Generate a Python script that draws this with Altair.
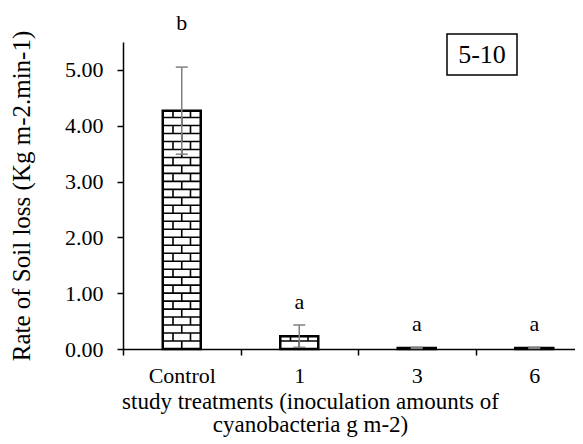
import altair as alt
import pandas as pd

# ---- data ----
categories = ["Control", "1", "3", "6"]
means = [4.27, 0.23, 0.02, 0.02]
errors = [0.78, 0.20, 0.01, 0.01]
letters = ["b", "a", "a", "a"]

FONT = "Liberation Serif"
BRICK_H = 0.143          # brick row height (y units) - style only
STEP_PX = 117.5          # category spacing in pixels
HALF_W = 19 / STEP_PX    # bar half width in x units (38 px bars)
CAP_HALF = 6 / STEP_PX
PLOT_W = 452

pos = list(range(len(categories)))
df = pd.DataFrame({"cat": categories, "pos": pos, "mean": means, "err": errors, "letter": letters})
df["lo"] = df["mean"] - df["err"]
df["hi"] = df["mean"] + df["err"]
df["x1"] = df["pos"] - HALF_W
df["x2"] = df["pos"] + HALF_W
df["c1"] = df["pos"] - CAP_HALF
df["c2"] = df["pos"] + CAP_HALF

# brick texture segments derived from the bar values
segs = []
for p, v in zip(pos, means):
    n_rows = int(v // BRICK_H) + (1 if v % BRICK_H > 1e-9 else 0)
    for r in range(n_rows):
        y0 = r * BRICK_H
        y1 = min((r + 1) * BRICK_H, v)
        if y1 - y0 < 0.03:
            continue
        if r > 0:
            segs.append({"x": p - HALF_W, "x2": p + HALF_W, "y": y0, "y2": y0})
        fracs = [0.5] if r % 2 == 0 else [0.27, 0.73]
        for f in fracs:
            xx = p - HALF_W + 2 * HALF_W * f
            segs.append({"x": xx, "x2": xx, "y": y0, "y2": y1})
bricks = pd.DataFrame(segs)

xdom = [-0.5, -0.5 + PLOT_W / STEP_PX]
xscale = alt.Scale(domain=xdom, nice=False, zero=False)
yscale = alt.Scale(domain=[0, 5.5], nice=False)

cat_js = str(categories).replace("'", '"')
lab_expr = "datum.value % 1 == 0 && isValid(" + cat_js + "[datum.value]) ? " + cat_js + "[datum.value] : ''"
xvals = []
for p in pos:
    xvals += [p - 0.5, p]

xaxis = alt.Axis(
    values=xvals, labelExpr=lab_expr, grid=False,
    title=["study treatments (inoculation amounts of", "cyanobacteria g m-2)"],
    titleFont=FONT, titleFontSize=23, titleFontWeight="normal", titleColor="black",
    titleX=187, titleAnchor="middle", titleAlign="center", titleLineHeight=23, titlePadding=4,
    labelFont=FONT, labelFontSize=22, labelColor="black", labelPadding=10, labelFlush=False,
    labelOverlap=False,
    tickSize=6, tickColor="black", tickWidth=1.5,
    tickOpacity=alt.condition("datum.value % 1 != 0", alt.value(1), alt.value(0)),
    domainColor="black", domainWidth=1.5,
)
yaxis = alt.Axis(
    values=[0, 1, 2, 3, 4, 5], format=".2f", grid=False,
    title="Rate of Soil loss (Kg m-2.min-1)",
    titleFont=FONT, titleFontSize=25, titleFontWeight="normal", titleColor="black", titlePadding=30,
    labelFont=FONT, labelFontSize=22, labelColor="black", labelPadding=14,
    tickSize=6, tickColor="black", tickWidth=1.5,
    domainColor="black", domainWidth=1.5,
)

base = alt.Chart(df)

bars = base.mark_rect(fill="white", strokeWidth=0).encode(
    x=alt.X("x1:Q", scale=xscale, axis=xaxis), x2="x2:Q",
    y=alt.Y("mean:Q", scale=yscale, axis=yaxis), y2=alt.datum(0),
)
brick = alt.Chart(bricks).mark_rule(color="black", strokeWidth=1.6).encode(
    x="x:Q", x2="x2:Q", y="y:Q", y2="y2:Q"
)
outline = base.mark_rect(fillOpacity=0, stroke="black", strokeWidth=2.5).encode(
    x="x1:Q", x2="x2:Q", y="mean:Q", y2=alt.datum(0)
)
err_line = base.mark_rule(color="#808080", strokeWidth=1.5).encode(
    x="pos:Q", y="lo:Q", y2="hi:Q"
)
caps_hi = base.mark_rule(color="#808080", strokeWidth=1.5).encode(
    x="c1:Q", x2="c2:Q", y="hi:Q"
)
caps_lo = base.mark_rule(color="#808080", strokeWidth=1.5).encode(
    x="c1:Q", x2="c2:Q", y="lo:Q"
)
txt_b = base.transform_filter("datum.letter == 'b'").mark_text(
    font=FONT, fontSize=22, color="black", baseline="alphabetic", dy=-37
).encode(x="pos:Q", y="hi:Q", text="letter:N")
txt_a = base.transform_filter("datum.letter != 'b'").mark_text(
    font=FONT, fontSize=22, color="black", baseline="alphabetic", dy=-16
).encode(x="pos:Q", y="hi:Q", text="letter:N")

box = alt.Chart(df).transform_filter("datum.pos == 0").mark_rect(
    fill="white", stroke="black", strokeWidth=1.5
).encode(x=alt.value(324), x2=alt.value(394), y=alt.value(-8), y2=alt.value(33))
box_txt = alt.Chart(df).transform_filter("datum.pos == 0").mark_text(
    font=FONT, fontSize=26, color="black", baseline="middle", align="center"
).encode(x=alt.value(359), y=alt.value(13), text=alt.value("5-10"))

chart = alt.layer(bars, brick, outline, err_line, caps_hi, caps_lo, txt_b, txt_a, box, box_txt).properties(
    width=PLOT_W, height=307,
    background="white",
    autosize=alt.AutoSizeParams(type="none"),
    padding={"left": 115, "top": 34, "right": 0, "bottom": 94},
).configure_view(strokeWidth=0, stroke="transparent")

chart.save("out.html", embed_options={"renderer": "svg", "actions": False})
